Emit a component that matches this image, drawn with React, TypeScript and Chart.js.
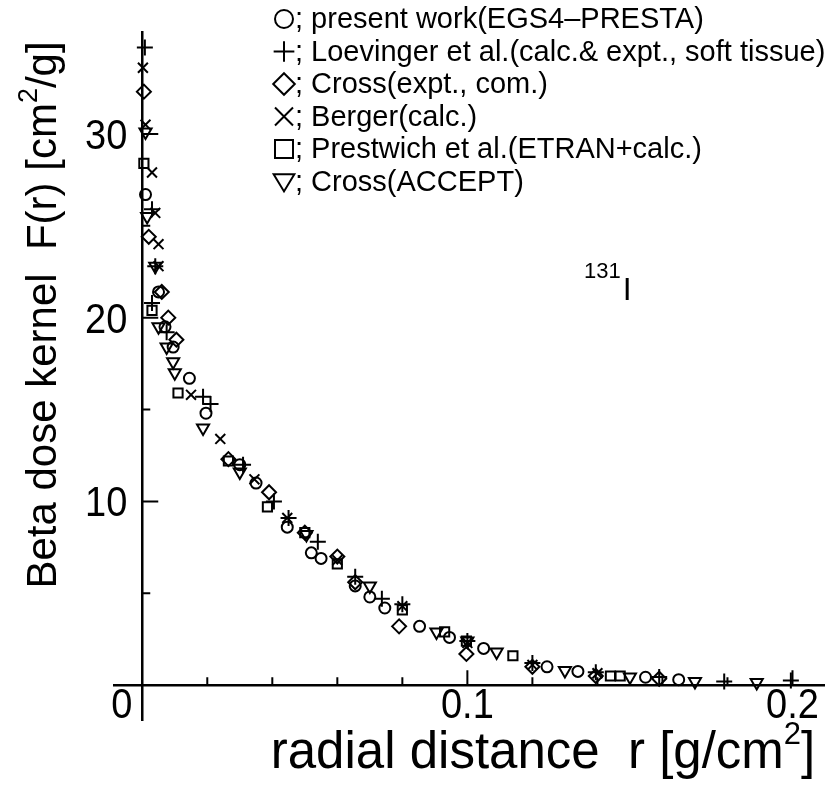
import React, { useEffect, useRef } from "react";
import { Chart, registerables } from "chart.js";

Chart.register(...registerables);

// ---- data (r in g/cm^2, F(r) in cm^2/g) ----
const presentR = [0.001, 0.005, 0.007, 0.0095, 0.0145, 0.0196, 0.03, 0.035, 0.0446, 0.052, 0.055, 0.0655, 0.07, 0.0746, 0.0853, 0.0945, 0.105, 0.1245, 0.134, 0.1548, 0.165];
const presentF = [26.7, 21.4, 19.5, 18.4, 16.7, 14.8, 12.0, 11.0, 8.6, 7.2, 6.9, 5.4, 4.8, 4.2, 3.2, 2.6, 2.0, 1.0, 0.75, 0.43, 0.3];

const loevR = [0.0008, 0.003, 0.004, 0.003, 0.0075, 0.0187, 0.021, 0.031, 0.0405, 0.045, 0.054, 0.0655, 0.0737, 0.08, 0.1, 0.12, 0.1395, 0.159, 0.179, 0.1995];
const loevF = [34.7, 25.9, 22.8, 20.8, 19.2, 15.7, 15.3, 12.0, 10.0, 9.1, 7.8, 5.9, 4.7, 4.4, 2.4, 1.2, 0.7, 0.45, 0.2, 0.25];

const crossExR = [0.0005, 0.002, 0.006, 0.008, 0.0105, 0.0265, 0.039, 0.05, 0.06, 0.0655, 0.079, 0.0997, 0.12, 0.1395, 0.159];
const crossExF = [32.3, 24.4, 21.4, 20.0, 18.8, 12.3, 10.5, 8.3, 7.0, 5.6, 3.2, 1.7, 1.0, 0.5, 0.35];

const bergerR = [0.0002, 0.001, 0.003, 0.004, 0.005, 0.005, 0.015, 0.024, 0.0345, 0.0446, 0.06, 0.08, 0.1, 0.12, 0.14];
const bergerF = [33.6, 30.5, 27.9, 25.7, 24.0, 22.8, 15.8, 13.4, 11.2, 9.1, 6.8, 4.3, 2.3, 1.1, 0.65];

const prestR = [0.0005, 0.003, 0.011, 0.0265, 0.0385, 0.05, 0.06, 0.08, 0.093, 0.0997, 0.114, 0.144, 0.147];
const prestF = [28.4, 20.4, 15.9, 12.2, 9.7, 8.3, 6.6, 4.1, 2.9, 2.4, 1.6, 0.5, 0.5];

const acceptR = [0.001, 0.0015, 0.004, 0.005, 0.0075, 0.0095, 0.01, 0.0187, 0.03, 0.0505, 0.07, 0.0905, 0.1, 0.109, 0.13, 0.15, 0.17, 0.189];
const acceptF = [30.1, 25.5, 22.8, 19.5, 18.4, 17.6, 17.0, 14.0, 11.6, 8.2, 5.4, 2.9, 2.4, 1.8, 0.8, 0.45, 0.2, 0.15];

const legendLabels = [
  "; present work(EGS4\u2013PRESTA)",
  "; Loevinger et al.(calc.& expt., soft tissue)",
  "; Cross(expt., com.)",
  "; Berger(calc.)",
  "; Prestwich et al.(ETRAN+calc.)",
  "; Cross(ACCEPT)",
];
const legendMarkers = ["circle", "plus", "diamond", "x", "square", "triDown"];

const xTickLabels = ["0", "0.1", "0.2"];
const xTickValues = [0, 0.1, 0.2];
const xMinorTicks = [0.02, 0.04, 0.06, 0.08, 0.12, 0.14, 0.16, 0.18];
const yTickLabels = ["10", "20", "30"];
const yTickValues = [10, 20, 30];
const yMinorTicks = [5, 15, 25];

const xTitle = "radial distance  r [g/cm";
const yTitle = "Beta dose kernel  F(r) [cm";
const isotopeMass = "131";
const isotopeSymbol = "I";

const FONT = "'Liberation Sans', Arial, Helvetica, sans-serif";

function pts(r: number[], f: number[]) {
  return r.map((x, i) => ({ x, y: f[i] }));
}

function drawMarker(ctx: CanvasRenderingContext2D, kind: string, x: number, y: number, s: number) {
  ctx.beginPath();
  if (kind === "circle") {
    ctx.arc(x, y, s, 0, Math.PI * 2);
  } else if (kind === "plus") {
    ctx.moveTo(x - s * 1.15, y); ctx.lineTo(x + s * 1.15, y);
    ctx.moveTo(x, y - s * 1.15); ctx.lineTo(x, y + s * 1.15);
  } else if (kind === "diamond") {
    ctx.moveTo(x, y - s * 1.2); ctx.lineTo(x + s * 1.2, y); ctx.lineTo(x, y + s * 1.2); ctx.lineTo(x - s * 1.2, y); ctx.closePath();
  } else if (kind === "x") {
    ctx.moveTo(x - s, y - s); ctx.lineTo(x + s, y + s);
    ctx.moveTo(x + s, y - s); ctx.lineTo(x - s, y + s);
  } else if (kind === "square") {
    ctx.rect(x - s, y - s, 2 * s, 2 * s);
  } else if (kind === "triDown") {
    ctx.moveTo(x - s * 1.15, y - s * 0.8); ctx.lineTo(x + s * 1.15, y - s * 0.8); ctx.lineTo(x, y + s * 1.1); ctx.closePath();
  }
  ctx.stroke();
}

// text stretched vertically to imitate the tall, narrow lettering of the original
function tallText(ctx: CanvasRenderingContext2D, t: string, x: number, y: number, sy: number) {
  ctx.save();
  ctx.translate(x, y);
  ctx.scale(1, sy);
  ctx.fillText(t, 0, 0);
  ctx.restore();
}

const decorPlugin = {
  id: "decor",
  afterDraw(chart: any) {
    const ctx: CanvasRenderingContext2D = chart.ctx;
    const xs = chart.scales.x;
    const ys = chart.scales.y;
    const area = chart.chartArea;
    const x0 = xs.getPixelForValue(0);
    const y0 = ys.getPixelForValue(0);
    ctx.save();
    ctx.strokeStyle = "#000";
    ctx.fillStyle = "#000";
    ctx.lineWidth = 2.5;
    // axes
    ctx.beginPath();
    ctx.moveTo(area.left, y0); ctx.lineTo(area.right, y0);
    ctx.moveTo(x0, area.top); ctx.lineTo(x0, area.bottom);
    ctx.stroke();
    ctx.lineWidth = 2;
    // ticks
    ctx.beginPath();
    xMinorTicks.forEach((v) => { const p = xs.getPixelForValue(v); ctx.moveTo(p, y0); ctx.lineTo(p, y0 - 8); });
    xTickValues.forEach((v) => { if (v !== 0) { const p = xs.getPixelForValue(v); ctx.moveTo(p, y0); ctx.lineTo(p, y0 - 15); } });
    yMinorTicks.forEach((v) => { const p = ys.getPixelForValue(v); ctx.moveTo(x0, p); ctx.lineTo(x0 + 8, p); });
    yTickValues.forEach((v) => { const p = ys.getPixelForValue(v); ctx.moveTo(x0, p); ctx.lineTo(x0 + 16, p); });
    ctx.stroke();
    // tick labels
    ctx.font = `38px ${FONT}`;
    ctx.textBaseline = "alphabetic";
    xTickValues.forEach((v, i) => {
      const p = xs.getPixelForValue(v);
      if (v === 0) { ctx.textAlign = "right"; tallText(ctx, xTickLabels[i], p - 10, y0 + 33, 1.12); }
      else { ctx.textAlign = "center"; tallText(ctx, xTickLabels[i], p, y0 + 33, 1.12); }
    });
    ctx.textAlign = "right";
    yTickValues.forEach((v, i) => {
      const p = ys.getPixelForValue(v);
      tallText(ctx, yTickLabels[i], x0 - 15, p + 15, 1.12);
    });
    // x title
    ctx.textAlign = "left";
    ctx.textBaseline = "alphabetic";
    const XF = 51;
    ctx.font = `${XF}px ${FONT}`;
    const xtW = ctx.measureText(xTitle).width;
    ctx.font = `31px ${FONT}`;
    const supW = ctx.measureText("2").width;
    ctx.font = `${XF}px ${FONT}`;
    const brW = ctx.measureText("]").width;
    const totalW = xtW + supW + brW;
    const xtLeft = 543 - totalW / 2;
    const xtBase = 768;
    tallText(ctx, xTitle, xtLeft, xtBase, 1.0);
    ctx.font = `31px ${FONT}`;
    ctx.fillText("2", xtLeft + xtW, xtBase - 24);
    ctx.font = `${XF}px ${FONT}`;
    tallText(ctx, "]", xtLeft + xtW + supW, xtBase, 1.0);
    // y title
    ctx.save();
    ctx.translate(56, 315);
    ctx.rotate(-Math.PI / 2);
    ctx.font = `42px ${FONT}`;
    const ytW = ctx.measureText(yTitle).width;
    ctx.font = `27px ${FONT}`;
    const ysupW = ctx.measureText("2").width;
    ctx.font = `42px ${FONT}`;
    const ytail = "/g]";
    const ytailW = ctx.measureText(ytail).width;
    const ytot = ytW + ysupW + ytailW;
    const yl = -ytot / 2;
    ctx.fillText(yTitle, yl, 0);
    ctx.font = `27px ${FONT}`;
    ctx.fillText("2", yl + ytW, -19);
    ctx.font = `42px ${FONT}`;
    ctx.fillText(ytail, yl + ytW + ysupW, 0);
    ctx.restore();
    // legend
    ctx.font = `29px ${FONT}`;
    ctx.textAlign = "left";
    ctx.textBaseline = "middle";
    legendLabels.forEach((lab, i) => {
      const cy = 19 + i * 32.5;
      ctx.lineWidth = 2;
      drawMarker(ctx, legendMarkers[i], 284, cy, 9);
      ctx.fillText(lab, 295, cy + 1);
    });
    // isotope label
    ctx.font = `22px ${FONT}`;
    ctx.textBaseline = "alphabetic";
    ctx.fillText(isotopeMass, 584, 278);
    const mw = ctx.measureText(isotopeMass).width;
    ctx.font = `32px ${FONT}`;
    ctx.fillText(isotopeSymbol, 584 + mw + 2, 300);
    ctx.restore();
  },
};

export default function App() {
  const ref = useRef<HTMLCanvasElement | null>(null);
  useEffect(() => {
    if (!ref.current) return;
    const common = { borderColor: "#000", backgroundColor: "rgba(0,0,0,0)", pointBorderWidth: 2, showLine: false };
    const chart = new Chart(ref.current, {
      type: "scatter",
      data: {
        datasets: [
          { ...common, label: legendLabels[0], data: pts(presentR, presentF), pointStyle: "circle", pointRadius: 5.5 },
          { ...common, label: legendLabels[1], data: pts(loevR, loevF), pointStyle: "cross", pointRadius: 8 },
          { ...common, label: legendLabels[2], data: pts(crossExR, crossExF), pointStyle: "rectRot", pointRadius: 7 },
          { ...common, label: legendLabels[3], data: pts(bergerR, bergerF), pointStyle: "crossRot", pointRadius: 7 },
          { ...common, label: legendLabels[4], data: pts(prestR, prestF), pointStyle: "rect", pointRadius: 6.5 },
          { ...common, label: legendLabels[5], data: pts(acceptR, acceptF), pointStyle: "triangle", pointRotation: 180, pointRadius: 7 },
        ],
      },
      options: {
        responsive: false,
        animation: false,
        events: [],
        layout: { padding: { left: 113, right: 1, top: 31, bottom: 69 } },
        plugins: { legend: { display: false }, tooltip: { enabled: false } },
        scales: {
          x: { type: "linear", min: -0.009, max: 0.21, display: false },
          y: { type: "linear", min: -1.95, max: 35.6, display: false },
        },
      },
      plugins: [decorPlugin],
    } as any);
    return () => chart.destroy();
  }, []);
  return (
    <div style={{ position: "absolute", left: 0, top: 0, width: 835, height: 790, background: "#fff" }}>
      <canvas ref={ref} width={835} height={790} style={{ display: "block" }} />
    </div>
  );
}
